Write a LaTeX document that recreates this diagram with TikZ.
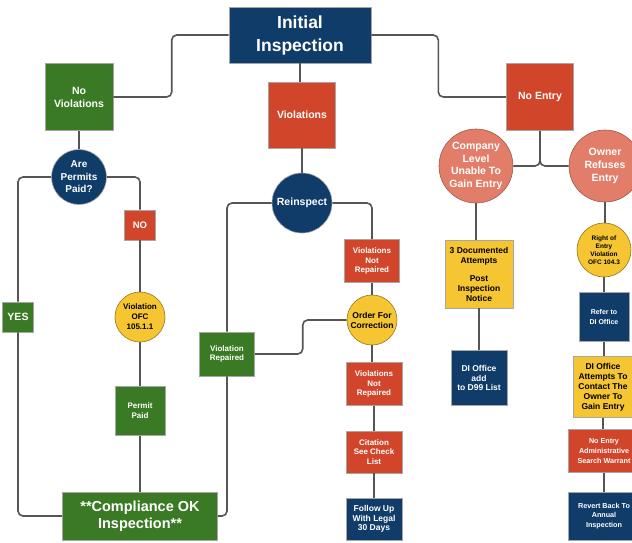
\documentclass[tikz,border=0pt]{standalone}
\usepackage{fontspec}
\setmainfont{Liberation Sans}
\usetikzlibrary{positioning}
\definecolor{insnavy}{HTML}{0F3C69}
\definecolor{insgreen}{HTML}{3B7A24}
\definecolor{insred}{HTML}{D1452B}
\definecolor{inssalmon}{HTML}{E27D6A}
\definecolor{insyellow}{HTML}{F6C532}
\definecolor{insline}{HTML}{555555}
\tikzset{
  basebox/.style={rectangle,draw=black!35,line width=0.6pt,align=center,inner sep=1pt,font=\bfseries,text=white},
  navybox/.style={basebox,fill=insnavy},
  greenbox/.style={basebox,fill=insgreen},
  redbox/.style={basebox,fill=insred},
  yellowbox/.style={basebox,fill=insyellow,text=black},
  basecirc/.style={circle,draw=black!35,line width=0.6pt,align=center,inner sep=0pt,font=\bfseries,text=white},
  navycirc/.style={basecirc,fill=insnavy},
  salmoncirc/.style={basecirc,fill=inssalmon,draw=inssalmon!70!black},
  yellowcirc/.style={basecirc,fill=insyellow,text=black,draw=insyellow!60!black},
  link/.style={draw=insline,line width=1.6pt,rounded corners=5pt}
}
\newcommand{\fs}[2]{\fontsize{#1}{#2}\selectfont\bfseries}

\begin{document}
\begin{tikzpicture}[x=1pt,y=-1pt]
\useasboundingbox (0,0) rectangle (632,542);
\clip (0,0) rectangle (632,542);
\fill[white] (0,0) rectangle (632,542);
% top level
\node[navybox,minimum width=142,minimum height=56,font=\fs{17.5}{23}] (ii) at (300,35) {Initial\\Inspection};
\node[greenbox,minimum width=68,minimum height=67,font=\fs{10.5}{13}] (nv) at (79,97) {No\\Violations};
\node[redbox,minimum width=67,minimum height=66,font=\fs{10.5}{13}] (vio) at (302,115) {Violations};
\node[redbox,minimum width=67,minimum height=67,font=\fs{10.5}{13}] (ne) at (540,97) {No Entry};
% no violations branch
\node[navycirc,minimum size=55,font=\fs{10}{12.5}] (app) at (79,177) {Are\\Permits\\Paid?};
\node[greenbox,minimum width=31,minimum height=30,font=\fs{10.5}{13}] (yes) at (18,317) {YES};
\node[redbox,minimum width=31,minimum height=30,font=\fs{9.5}{12}] (no) at (140,225) {NO};
\node[yellowcirc,minimum size=50,font=\fs{8}{10}] (ofc) at (140,317) {Violation\\OFC\\105.1.1};
\node[greenbox,minimum width=50,minimum height=49,font=\fs{8}{10}] (pp) at (140,411) {Permit\\Paid};
\node[greenbox,minimum width=155,minimum height=48,font=\fs{14.5}{17}] (comp) at (140,516) {**Compliance OK\\Inspection**};
% violations branch
\node[navycirc,minimum size=60,font=\fs{10.5}{13}] (rein) at (302,203) {Reinspect};
\node[greenbox,minimum width=55,minimum height=44,font=\fs{8}{9.5}] (vr) at (227,354) {Violation\\Repaired};
\node[redbox,minimum width=55,minimum height=43,font=\fs{8}{9.7}] (vnra) at (372,261) {Violations\\Not\\Repaired};
\node[yellowcirc,minimum size=50,font=\fs{8.5}{10}] (oc) at (372,320) {Order For\\Correction};
\node[redbox,minimum width=56,minimum height=43,font=\fs{8}{9.7}] (vnrb) at (374,384) {Violations\\Not\\Repaired};
\node[redbox,minimum width=56,minimum height=42,font=\fs{8}{9.7}] (cit) at (374,452) {Citation\\See Check\\List};
\node[navybox,minimum width=56,minimum height=42,font=\fs{8.5}{9.7}] (fu) at (374,519) {Follow Up\\With Legal\\30 Days};
% no entry branch
\node[salmoncirc,minimum size=74,font=\fs{10.5}{12.7}] (cl) at (476,166) {Company\\Level\\Unable To\\Gain Entry};
\node[salmoncirc,minimum size=72,font=\fs{10.5}{12.7}] (ow) at (605,166) {Owner\\Refuses\\Entry};
\node[yellowbox,minimum width=68,minimum height=68,font=\fs{8.5}{10}] (doc) at (479,274) {3 Documented\\Attempts\\[8pt]Post\\Inspection\\Notice};
\node[navybox,minimum width=56,minimum height=55,font=\fs{8.5}{9.7}] (dio) at (479,378) {DI Office\\add\\to D99 List};
\node[yellowcirc,minimum size=54,font=\fs{6.5}{7.8}] (roe) at (604,250) {Right of\\Entry\\Violation\\OFC 104.3};
\node[navybox,minimum width=50,minimum height=49,font=\fs{7}{10}] (ref) at (604,317) {Refer to\\DI Office};
\node[yellowbox,minimum width=60,minimum height=61,font=\fs{8.5}{10}] (dia) at (603,387) {DI Office\\Attempts To\\Contact The\\Owner To\\Gain Entry};
\node[redbox,minimum width=72,minimum height=43,font=\fs{7.2}{9.7}] (sw) at (604,451) {No Entry\\Administrative\\Search Warrant};
\node[navybox,minimum width=72,minimum height=48,font=\fs{7.2}{9.7}] (rb) at (604,516) {Revert Back To\\Annual\\Inspection};
% connectors
\draw[link] (ii.west) -- ++(-57,0) |- (nv.east);
\draw[link] (ii.east) -- ++(67,0) |- (ne.west);
\draw[link] (ii.south) -- (ii.south |- vio.north);
\draw[link] (vio.south) -- (rein.north);
\draw[link] (nv.south) -- (app.north);
\draw[link] (app.west) -| (yes.north);
\draw[link] (yes.south) |- (comp.west);
\draw[link] (app.east) -| (no.north);
\draw[link] (no.south) -- (ofc.north);
\draw[link] (ofc.south) -- (pp.north);
\draw[link] (pp.south) -- (comp.north);
\draw[link] (comp.east) -| (vr.south);
\draw[link] (vr.north) |- (rein.west);
\draw[link] (rein.east) -| (vnra.north);
\draw[link] (vnra.south) -- (oc.north);
\draw[link] (oc.west) -- ++(-44,0) |- (vr.east);
\draw[link] (oc.south) -- (oc.south |- vnrb.north);
\draw[link] (vnrb.south) -- (cit.north);
\draw[link] (cit.south) -- (fu.north);
\draw[link] (ne.south) |- (cl.east);
\draw[link] (ne.south) |- (ow.west);
\draw[link] (cl.south) -- (cl.south |- doc.north);
\draw[link] (doc.south) -- (dio.north);
\draw[link] (ow.south) -- (ow.south |- roe.north);
\draw[link] (roe.south) -- (roe.south |- ref.north);
\draw[link] (ref.south) -- (ref.south |- dia.north);
\draw[link] (dia.south) -- (dia.south |- sw.north);
\draw[link] (sw.south) -- (rb.north);
\end{tikzpicture}
\end{document}
